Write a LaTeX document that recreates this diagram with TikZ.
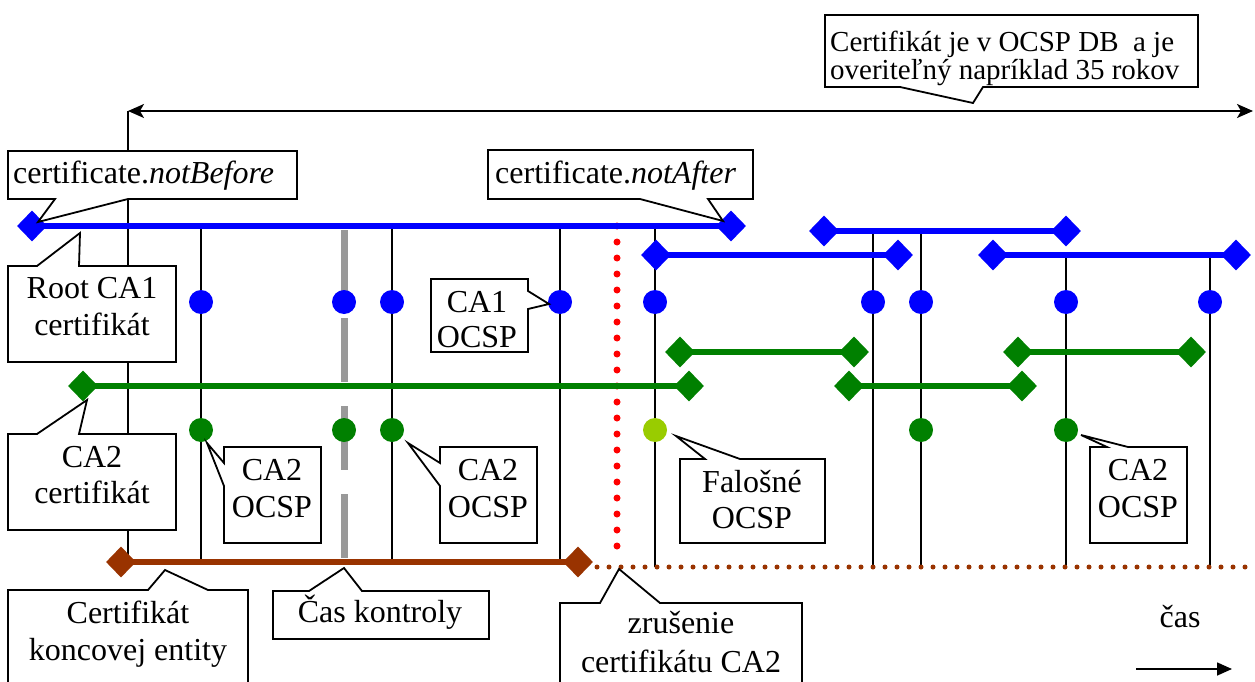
\documentclass[tikz,border=0pt]{standalone}
\usepackage{fontspec}
\setmainfont{Liberation Serif}
\usetikzlibrary{shapes.geometric,arrows.meta,backgrounds}
\definecolor{cablue}{RGB}{0,0,255}
\definecolor{cagreen}{RGB}{0,128,0}
\definecolor{fakegreen}{RGB}{153,204,0}
\definecolor{eebrown}{RGB}{153,51,0}
\definecolor{checkgray}{RGB}{153,153,153}
\definecolor{revred}{RGB}{255,0,0}
\begin{document}
\begin{tikzpicture}[x=1pt,y=-1pt,
  lbl/.style={font=\fontsize{32}{37}\selectfont, inner sep=0pt, anchor=base},
  toplbl/.style={font=\fontsize{29}{28}\selectfont, inner sep=0pt, anchor=base west},
  bubble/.style={draw=black, fill=white, line width=1.8pt, line join=miter},
  stem/.style={draw=black, line width=1.6pt},
  capbar/.style={line width=6.5pt},
  mk/.style={diamond, inner sep=0pt, minimum width=30pt, minimum height=31pt, draw=none},
  ocspdot/.style={circle, inner sep=0pt, minimum size=24pt, draw=none}]
\useasboundingbox (0,0) rectangle (1255,682);

% ---- anchor points of the thin time lines ----
\coordinate (spanL) at (128,111);
\coordinate (spanR) at (1253,111);
\coordinate (v1b) at (128,562);
\coordinate (v2t) at (201,226);  \coordinate (v2b) at (201,562);
\coordinate (v3t) at (392,226);  \coordinate (v3b) at (392,562);
\coordinate (v4t) at (560,226);  \coordinate (v4b) at (560,562);
\coordinate (v5t) at (655,226);  \coordinate (v5b) at (655,567);
\coordinate (v6t) at (873,231);  \coordinate (v6b) at (873,567);
\coordinate (v7t) at (921,231);  \coordinate (v7b) at (921,567);
\coordinate (v8t) at (1066,255); \coordinate (v8b) at (1066,567);
\coordinate (v9t) at (1210,255); \coordinate (v9b) at (1210,567);
\coordinate (chkTop) at (344,230); \coordinate (chkBot) at (344,558);
\coordinate (revTop) at (617,226); \coordinate (revBot) at (617,550);
\coordinate (eeDotA) at (597,567); \coordinate (eeDotB) at (1255,567);
\coordinate (timeA) at (1136,669); \coordinate (timeB) at (1232,669);

% ---- certificate validity end points ----
\node[mk, fill=cablue] (r1L) at (32,226) {};
\node[mk, fill=cablue] (r1R) at (731,226) {};
\node[mk, fill=cablue] (b2L) at (824,231) {};
\node[mk, fill=cablue] (b2R) at (1066,231) {};
\node[mk, fill=cablue] (b3L) at (656,255) {};
\node[mk, fill=cablue] (b3R) at (898,255) {};
\node[mk, fill=cablue] (b4L) at (993,255) {};
\node[mk, fill=cablue] (b4R) at (1236,255) {};
\node[mk, fill=cagreen] (g1L) at (83,386) {};
\node[mk, fill=cagreen] (g1R) at (689,386) {};
\node[mk, fill=cagreen] (g2L) at (680,352) {};
\node[mk, fill=cagreen] (g2R) at (854,352) {};
\node[mk, fill=cagreen] (g3L) at (1018,352) {};
\node[mk, fill=cagreen] (g3R) at (1191,352) {};
\node[mk, fill=cagreen] (g4L) at (849,386) {};
\node[mk, fill=cagreen] (g4R) at (1022,386) {};
\node[mk, fill=eebrown] (eeL) at (121,562) {};
\node[mk, fill=eebrown] (eeR) at (578,562) {};

\begin{pgfonlayer}{background}
  % thin vertical lines and the validity span
  \draw[stem, {Stealth[length=16pt,width=14pt,inset=4pt]}-{Stealth[length=16pt,width=14pt,inset=4pt]}] (spanL) -- (spanR);
  \draw[stem] (spanL) -- (v1b);
  \foreach \v in {2,...,9} \draw[stem] (v\v t) -- (v\v b);
  % check time and revocation
  \draw[checkgray, line width=7pt, dash pattern=on 64pt off 24pt] (chkTop) -- (chkBot);
  \draw[revred, line width=7pt, line cap=round, dash pattern=on 0pt off 16pt] (revTop) -- (revBot);
  \draw[eebrown, line width=5pt, line cap=round, dash pattern=on 0pt off 12pt] (eeDotA) -- (eeDotB);
  % validity bars
  \draw[capbar, cablue] (r1L.center) -- (r1R.center);
  \draw[capbar, cablue] (b2L.center) -- (b2R.center);
  \draw[capbar, cablue] (b3L.center) -- (b3R.center);
  \draw[capbar, cablue] (b4L.center) -- (b4R.center);
  \draw[capbar, cagreen] (g1L.center) -- (g1R.center);
  \draw[capbar, cagreen] (g2L.center) -- (g2R.center);
  \draw[capbar, cagreen] (g3L.center) -- (g3R.center);
  \draw[capbar, cagreen] (g4L.center) -- (g4R.center);
  \draw[capbar, eebrown] (eeL.center) -- (eeR.center);
\end{pgfonlayer}

% ---- OCSP responses ----
\foreach \x [count=\i] in {201,344,392,560,655,873,921,1066,1210}
  \node[ocspdot, fill=cablue] (o1\i) at (\x,302) {};
\foreach \x [count=\i] in {201,344,392,921,1066}
  \node[ocspdot, fill=cagreen] (o2\i) at (\x,430) {};
\node[ocspdot, fill=fakegreen] (ofake) at (655,430) {};

% ---- callouts ----
\draw[bubble] (825,15) -- (1198,15) -- (1198,87) -- (983,87) -- (973,103) -- (900,87) -- (825,87) -- cycle;
\node[toplbl] (dbA) at (830,52) {Certifikát je v OCSP DB\ \ a je};
\node[toplbl] (dbB) at (830,80) {overiteľný napríklad 35 rokov};

\draw[bubble] (8,151) -- (297,151) -- (297,199) -- (128,199) -- (38,222) -- (55,199) -- (8,199) -- cycle;
\node[lbl, anchor=base west] (nbTxt) at (13,183) {certificate.\textit{notBefore}};

\draw[bubble] (488,150) -- (753,150) -- (753,199) -- (708,199) -- (723,221) -- (640,199) -- (488,199) -- cycle;
\node[lbl, anchor=base west] (naTxt) at (495,183) {certificate.\textit{notAfter}};

\draw[bubble] (8,266) -- (37,266) -- (80,233) -- (79,266) -- (176,266) -- (176,362) -- (8,362) -- cycle;
\node[lbl] (rootA) at (92,298) {Root CA1};
\node[lbl] (rootB) at (92,335) {certifikát};

\draw[bubble] (8,434) -- (37,434) -- (87,400) -- (79,434) -- (176,434) -- (176,530) -- (8,530) -- cycle;
\node[lbl] (ca2A) at (92,467) {CA2};
\node[lbl] (ca2B) at (92,503) {certifikát};

\draw[bubble] (8,590) -- (148,590) -- (165,570) -- (208,590) -- (248,590) -- (248,690) -- (8,690) -- cycle;
\node[lbl] (eeA) at (128,623) {Certifikát};
\node[lbl] (eeB) at (128,660) {koncovej entity};

\draw[bubble] (224,447) -- (321,447) -- (321,543) -- (224,543) -- (224,486) -- (207,443) -- (224,463) -- cycle;
\node[lbl] (ocLA) at (272,480) {CA2};
\node[lbl] (ocLB) at (272,517) {OCSP};

\draw[bubble] (440,447) -- (537,447) -- (537,543) -- (440,543) -- (440,486) -- (408,443) -- (440,463) -- cycle;
\node[lbl] (ocMA) at (488,480) {CA2};
\node[lbl] (ocMB) at (488,517) {OCSP};

\draw[bubble] (431,279) -- (528,279) -- (528,291) -- (549,304) -- (528,309) -- (528,352) -- (431,352) -- cycle;
\node[lbl] (oc1A) at (477,312) {CA1};
\node[lbl] (oc1B) at (477,347) {OCSP};

\draw[bubble] (273,591) -- (309,591) -- (344,568) -- (362,591) -- (489,591) -- (489,639) -- (273,639) -- cycle;
\node[lbl] (chkTxt) at (380,622) {Čas kontroly};

\draw[bubble] (560,603) -- (600,603) -- (619,569) -- (660,603) -- (802,603) -- (802,690) -- (560,690) -- cycle;
\node[lbl] (revA) at (681,633) {zrušenie};
\node[lbl] (revB) at (681,672) {certifikátu CA2};

\draw[bubble] (680,459) -- (705,459) -- (676,436) -- (740,459) -- (825,459) -- (825,543) -- (680,543) -- cycle;
\node[lbl] (fkA) at (752,492) {Falošné};
\node[lbl] (fkB) at (752,528) {OCSP};

\draw[bubble] (1090,447) -- (1107,447) -- (1081,435) -- (1128,447) -- (1187,447) -- (1187,543) -- (1090,543) -- cycle;
\node[lbl] (ocRA) at (1138,480) {CA2};
\node[lbl] (ocRB) at (1138,517) {OCSP};

% ---- time axis ----
\node[lbl] (timeTxt) at (1180,627) {čas};
\draw[stem, -{Triangle[length=15pt,width=13pt]}] (timeA) -- (timeB);
\end{tikzpicture}
\end{document}
